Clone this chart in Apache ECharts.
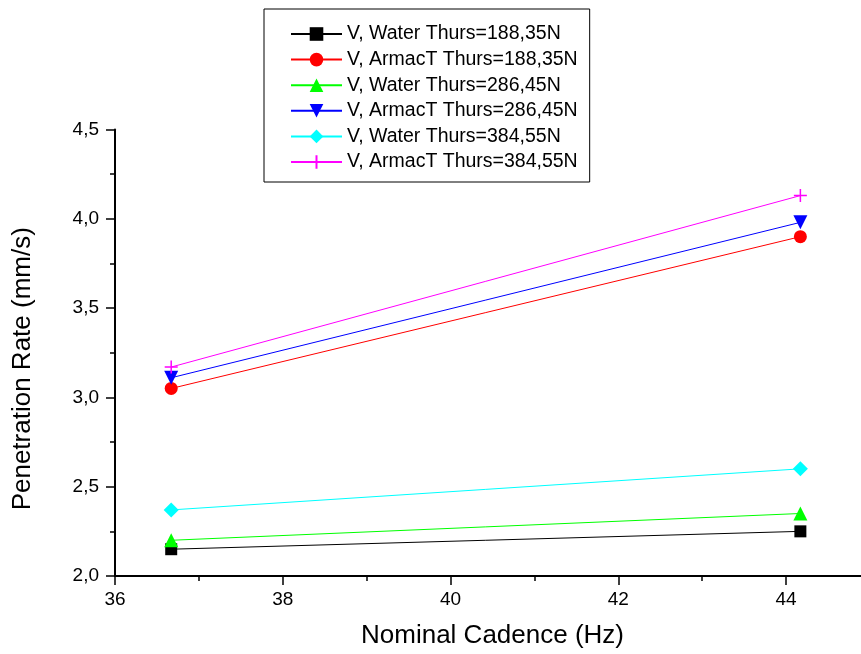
<!DOCTYPE html>
<html>
<head>
<meta charset="utf-8">
<script src="https://cdn.jsdelivr.net/npm/echarts@6/dist/echarts.min.js"></script>
<style>
html,body{margin:0;padding:0;background:#fff;overflow:hidden;width:861px;height:654px;}
#chart{width:870px;height:654px;}
</style>
</head>
<body>
<div id="chart"></div>
<script>
const cadence = [36.67, 44.17];
const seriesNames = [
  'V, Water Thurs=188,35N',
  'V, ArmacT Thurs=188,35N',
  'V, Water Thurs=286,45N',
  'V, ArmacT Thurs=286,45N',
  'V, Water Thurs=384,55N',
  'V, ArmacT Thurs=384,55N'
];
const waterThrust188 = [2.15, 2.25];
const armacThrust188 = [3.05, 3.90];
const waterThrust286 = [2.20, 2.35];
const armacThrust286 = [3.11, 3.98];
const waterThrust384 = [2.37, 2.60];
const armacThrust384 = [3.17, 4.13];
const seriesValues = [waterThrust188, armacThrust188, waterThrust286, armacThrust286, waterThrust384, armacThrust384];
const colors = ['#000000', '#ff0000', '#00ff00', '#0000ff', '#00ffff', '#ff00ff'];
const symbols = ['rect', 'circle', 'triangle', 'triangle', 'diamond', 'path://M5,0L5,10M0,5L10,5'];
const symbolSizes = [12, 13, 14, 14, 15, 13];
const symbolRotates = [0, 0, 0, 180, 0, 0];

const FONT = '"Liberation Sans", Arial, sans-serif';
const chart = echarts.init(document.getElementById('chart'), null, {renderer: 'canvas', width: 870, height: 654});

const series = seriesNames.map((name, i) => ({
  name: name,
  type: 'line',
  data: cadence.map((x, j) => [x, seriesValues[i][j]]),
  symbol: symbols[i],
  symbolSize: symbolSizes[i],
  symbolRotate: symbolRotates[i],
  showAllSymbol: true,
  clip: false,
  lineStyle: {color: colors[i], width: 1},
  itemStyle: i === 5
    ? {color: colors[i], borderColor: colors[i], borderWidth: 1.5}
    : {color: colors[i], borderWidth: 0},
  emphasis: {disabled: true},
  animation: false
}));

chart.setOption({
  backgroundColor: '#ffffff',
  animation: false,
  textStyle: {fontFamily: FONT},
  legend: {
    data: seriesNames,
    orient: 'vertical',
    left: 264,
    top: 9,
    padding: [15, 12, 10, 26],
    borderColor: '#000',
    borderWidth: 1,
    itemWidth: 51,
    itemHeight: 17,
    itemGap: 5.6,
    selectedMode: false,
    textStyle: {fontFamily: FONT, fontSize: 19.5, color: '#000', lineHeight: 19.5}
  },
  grid: {left: 115, top: 129.5, bottom: 78, right: 0, containLabel: false},
  xAxis: {
    type: 'value',
    min: 36,
    max: 45,
    interval: 2,
    name: 'Nominal Cadence (Hz)',
    nameLocation: 'middle',
    nameGap: 47,
    nameTextStyle: {fontFamily: FONT, fontSize: 26, color: '#000'},
    axisLine: {show: true, lineStyle: {color: '#000', width: 2}},
    axisTick: {show: true, length: 9, lineStyle: {color: '#000', width: 1.5}},
    minorTick: {show: true, splitNumber: 2, length: 5, lineStyle: {color: '#000', width: 1.5}},
    splitLine: {show: false},
    axisLabel: {fontFamily: FONT, fontSize: 19, color: '#000', margin: 14, showMaxLabel: false}
  },
  yAxis: {
    type: 'value',
    min: 2,
    max: 4.5,
    interval: 0.5,
    name: 'Penetration Rate (mm/s)',
    nameLocation: 'middle',
    nameGap: 79,
    nameTextStyle: {fontFamily: FONT, fontSize: 26, color: '#000', padding: [0, 32, 0, 0]},
    axisLine: {show: true, lineStyle: {color: '#000', width: 2}},
    axisTick: {show: true, length: 9, lineStyle: {color: '#000', width: 1.5}},
    minorTick: {show: true, splitNumber: 2, length: 5, lineStyle: {color: '#000', width: 1.5}},
    splitLine: {show: false},
    axisLabel: {
      fontFamily: FONT, fontSize: 19, color: '#000', margin: 16,
      formatter: v => v.toFixed(1).replace('.', ',')
    }
  },
  series: series
});
</script>
</body>
</html>
